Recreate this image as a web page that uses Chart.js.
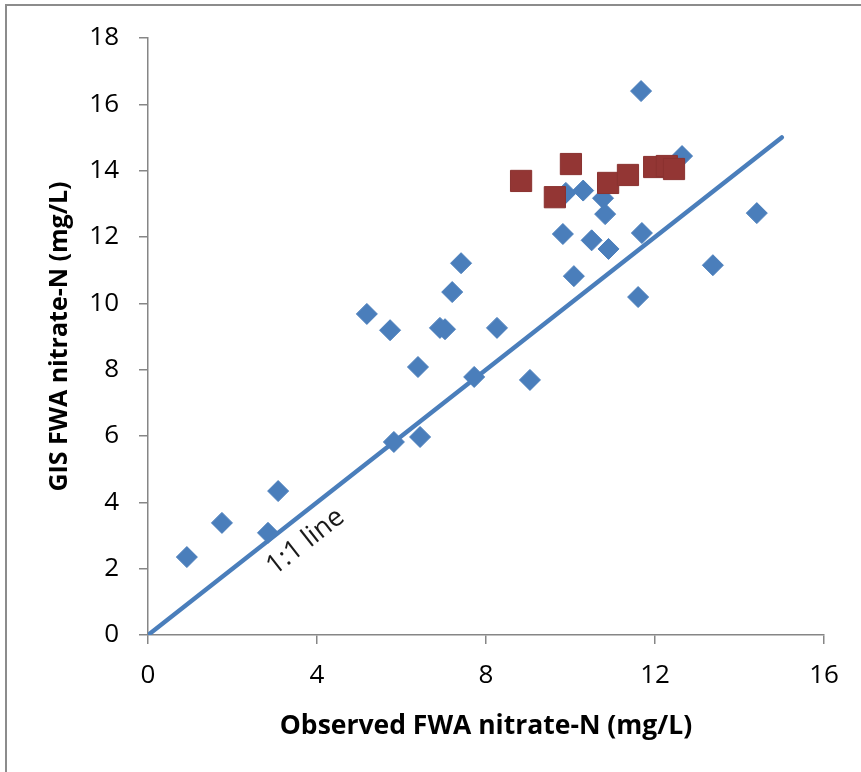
<!DOCTYPE html>
<html>
<head>
<meta charset="utf-8">
<script src="https://cdn.jsdelivr.net/npm/chart.js@4.4.1/dist/chart.umd.min.js"></script>
<style>
  html, body { margin: 0; padding: 0; background: #ffffff; }
  body { width: 861px; height: 772px; position: relative; overflow: hidden; }
  #wrap { position: absolute; left: 0; top: 0; width: 861px; height: 772px; }
  #frame { position: absolute; left: 5px; top: 4px; width: 900px; height: 900px;
           border-left: 2px solid #8c8c8c; border-top: 2px solid #8c8c8c; pointer-events: none; }
</style>
</head>
<body>
<div id="wrap"><canvas id="c"></canvas></div>
<div id="frame"></div>
<script>
// Blue series (diamonds): observed vs GIS FWA nitrate-N
const blueObserved = [0.92, 1.75, 2.84, 3.08, 5.18, 5.73, 5.82, 6.39, 6.44, 6.91, 7.03, 7.20, 7.41, 7.72, 8.26, 9.04, 9.82, 9.89, 10.08, 10.30, 10.50, 10.77, 10.82, 10.90, 11.60, 11.69, 11.67, 12.64, 13.37, 14.41];
const blueGIS      = [2.35, 3.38, 3.08, 4.34, 9.68, 9.19, 5.82, 8.08, 5.97, 9.26, 9.22, 10.34, 11.21, 7.78, 9.26, 7.69, 12.09, 13.33, 10.82, 13.40, 11.90, 13.17, 12.69, 11.64, 10.19, 12.12, 16.40, 14.44, 11.15, 12.72];
// Red series (squares)
const redObserved = [8.83, 9.63, 10.01, 10.89, 11.36, 11.98, 12.28, 12.45];
const redGIS      = [13.69, 13.20, 14.20, 13.63, 13.87, 14.11, 14.14, 14.05];
// 1:1 line end points
const lineX = [0, 15];
const lineY = [0, 15];
const xTicks = [0, 4, 8, 12, 16];
const yTicks = [0, 2, 4, 6, 8, 10, 12, 14, 16, 18];
const xTitle = 'Observed FWA nitrate-N (mg/L)';
const yTitle = 'GIS FWA nitrate-N (mg/L)';
const lineLabel = '1:1 line';
const lineLabelAt = 3.38;

const BLUE = '#4a7ebb';
const RED = '#933634';
const AXIS = '#868686';
const FONT = '"Open Sans", Lato, sans-serif';

const toPts = (xs, ys) => xs.map((x, i) => ({x: x, y: ys[i]}));

const lineLabelPlugin = {
  id: 'lineLabel',
  afterDatasetsDraw(chart) {
    const {ctx, scales: {x, y}} = chart;
    const x0 = x.getPixelForValue(lineX[0]), y0 = y.getPixelForValue(lineY[0]);
    const x1 = x.getPixelForValue(lineX[1]), y1 = y.getPixelForValue(lineY[1]);
    const ang = Math.atan2(y1 - y0, x1 - x0);
    const px = x.getPixelForValue(lineLabelAt), py = y.getPixelForValue(lineLabelAt);
    const nx = -Math.sin(ang), ny = Math.cos(ang);
    const off = 24;
    ctx.save();
    ctx.translate(px + nx * off, py + ny * off);
    ctx.rotate(ang);
    ctx.font = '27px ' + FONT;
    ctx.fillStyle = '#1a1a1a';
    ctx.textAlign = 'center';
    ctx.textBaseline = 'middle';
    ctx.fillText(lineLabel, 0, 0);
    ctx.restore();
  }
};

new Chart(document.getElementById('c'), {
  type: 'scatter',
  data: {
    datasets: [
      {
        label: 'Series 2',
        data: toPts(redObserved, redGIS),
        pointStyle: 'rect',
        pointRadius: 15,
        pointHoverRadius: 15,
        backgroundColor: RED,
        borderColor: '#8a3230',
        borderWidth: 1,
        order: 0
      },
      {
        label: 'Series 1',
        data: toPts(blueObserved, blueGIS),
        pointStyle: 'rectRot',
        pointRadius: 10.5,
        pointHoverRadius: 10.5,
        backgroundColor: BLUE,
        borderColor: BLUE,
        borderWidth: 1,
        order: 1
      },
      {
        type: 'line',
        label: '1:1 line',
        data: toPts(lineX, lineY),
        borderColor: BLUE,
        borderWidth: 4.5,
        borderCapStyle: 'round',
        pointRadius: 0,
        fill: false,
        order: 2
      }
    ]
  },
  options: {
    responsive: true,
    maintainAspectRatio: false,
    animation: false,
    events: [],
    layout: { padding: { top: 38, right: 37, left: 0, bottom: 0 } },
    plugins: {
      legend: { display: false },
      tooltip: { enabled: false },
      title: { display: false }
    },
    scales: {
      x: {
        type: 'linear',
        min: 0, max: 16,
        afterBuildTicks(scale) { scale.ticks = xTicks.map(v => ({value: v})); },
        afterFit(scale) { scale.height = 137; },
        border: { display: true, color: AXIS, width: 1.5 },
        grid: { drawOnChartArea: false, drawTicks: true, tickLength: 9, color: AXIS, tickColor: AXIS, lineWidth: 1.5 },
        ticks: { color: '#000', font: { family: FONT, size: 26 }, padding: 16, maxRotation: 0 },
        title: { display: true, text: xTitle, color: '#000',
                 font: { family: FONT, size: 26.5, weight: 'bold' },
                 padding: { top: 0, bottom: 30 } }
      },
      y: {
        type: 'linear',
        min: 0, max: 18,
        afterBuildTicks(scale) { scale.ticks = yTicks.map(v => ({value: v})); },
        afterFit(scale) { scale.width = 148; },
        border: { display: true, color: AXIS, width: 1.5 },
        grid: { drawOnChartArea: false, drawTicks: true, tickLength: 9, color: AXIS, tickColor: AXIS, lineWidth: 1.5 },
        ticks: { color: '#000', font: { family: FONT, size: 26 }, padding: 20 },
        title: { display: true, text: yTitle, color: '#000',
                 font: { family: FONT, size: 25, weight: 'bold' },
                 padding: { top: 45, bottom: 0 } }
      }
    }
  },
  plugins: [lineLabelPlugin]
});
</script>
</body>
</html>
